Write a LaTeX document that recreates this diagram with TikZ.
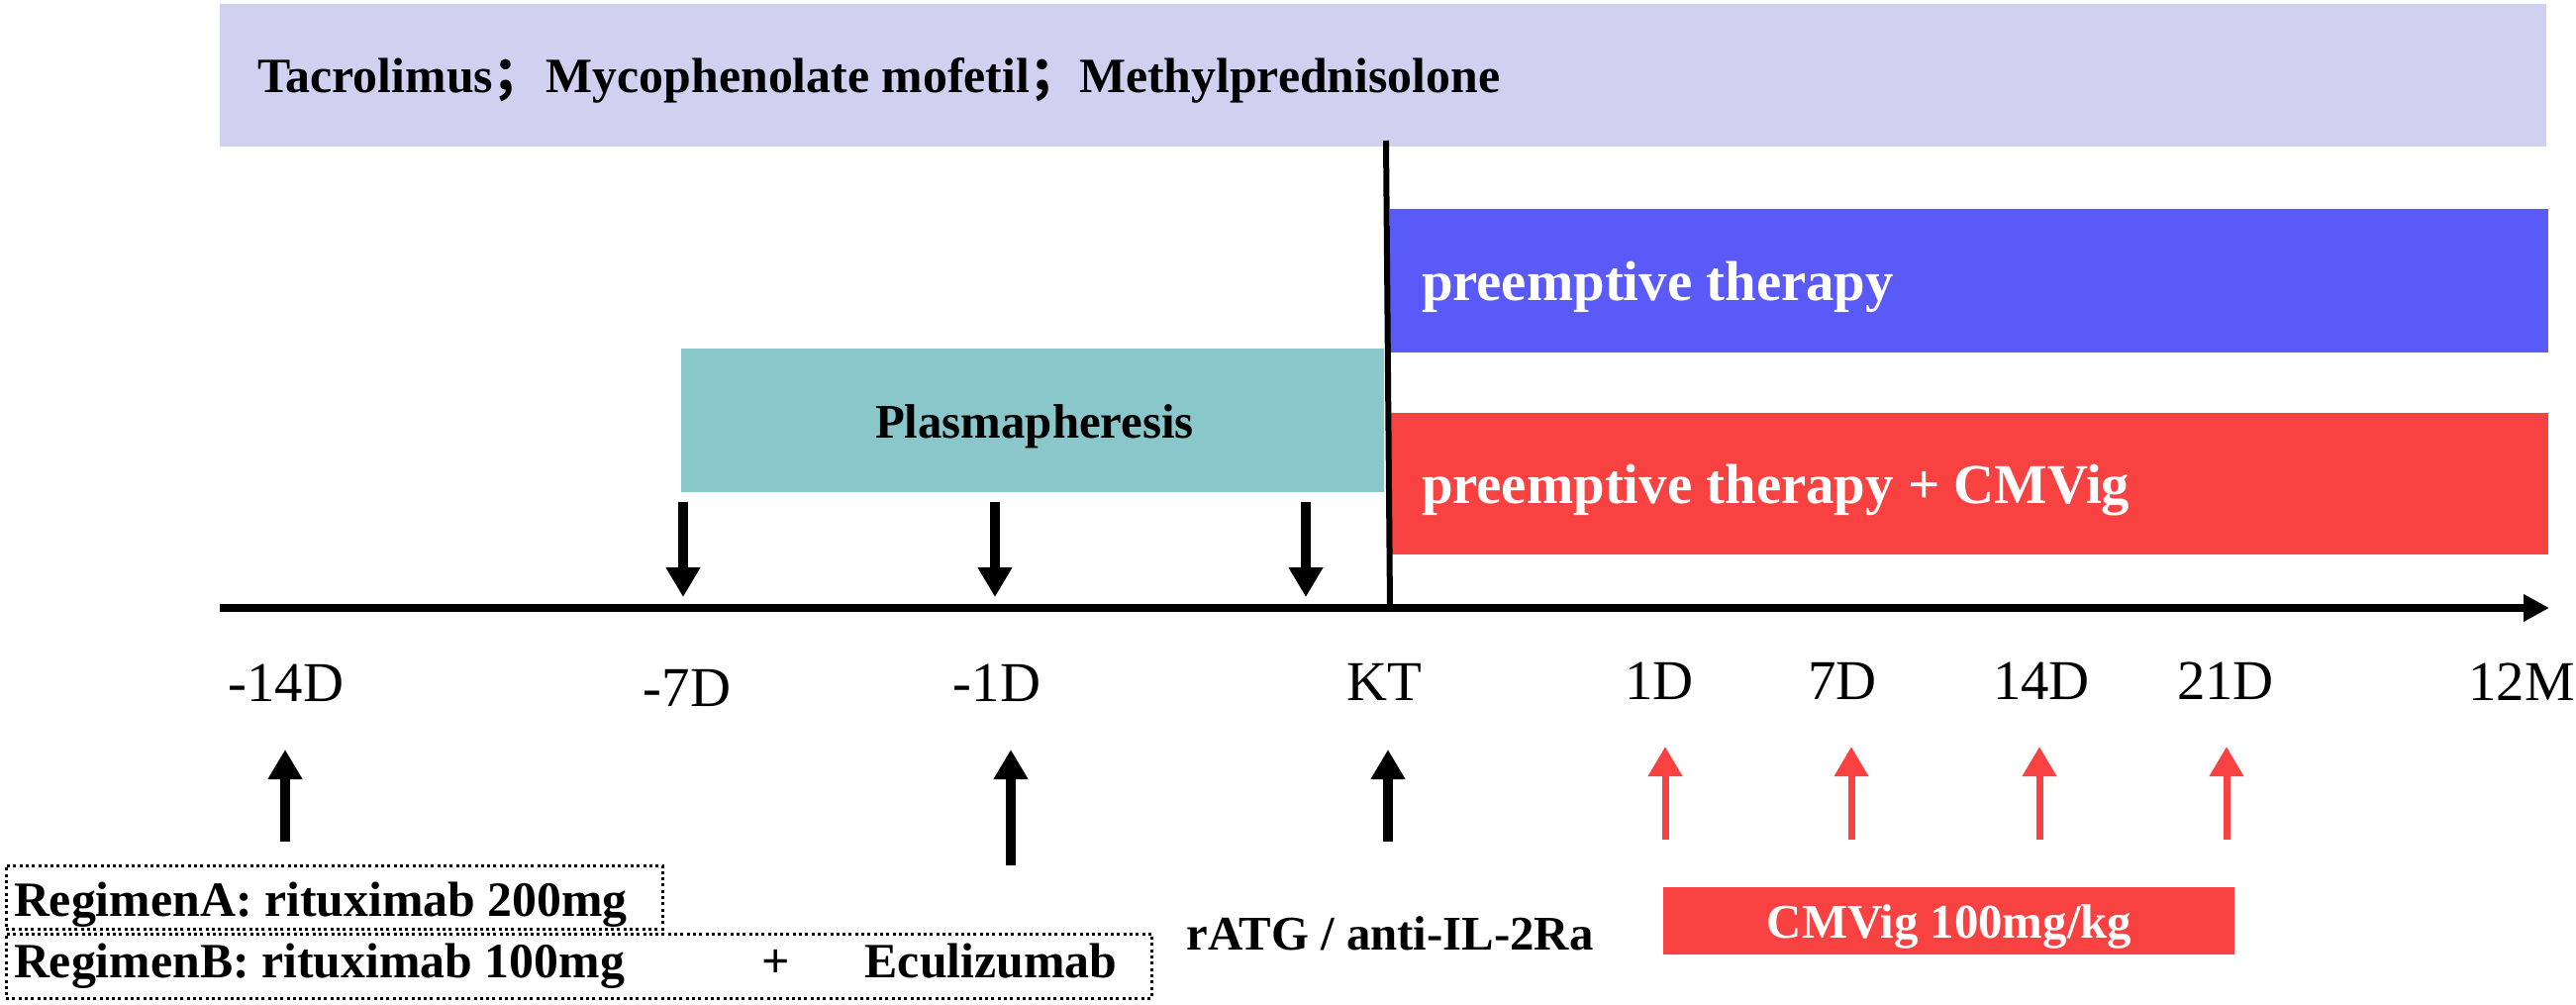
\documentclass[tikz,border=0pt]{standalone}
\usepackage{fontspec}
\setmainfont{Liberation Serif}
\newfontfamily\cjk{Noto Sans CJK SC}
\usetikzlibrary{arrows.meta}
\definecolor{lav}{RGB}{208,209,240}
\definecolor{bluebar}{RGB}{90,90,248}
\definecolor{redbar}{RGB}{248,66,66}
\definecolor{teal}{RGB}{138,199,202}
\tikzset{
  box/.style={inner sep=0, outer sep=0, anchor=north west},
  txt/.style={inner sep=0, outer sep=0, anchor=base},
  btxt/.style={txt, font=\fontsize{#1}{#1}\selectfont\bfseries},
  rtxt/.style={txt, font=\fontsize{57}{57}\selectfont},
  darrow/.style={line width=10bp, -{Triangle[length=30bp,width=33bp]}},
  rarrow/.style={line width=7bp, redbar, -{Triangle[length=30bp,width=33bp]}},
  dotbox/.style={draw, line width=3bp, dash pattern=on 3bp off 3.3bp}
}
\begin{document}
\begin{tikzpicture}[x=1bp,y=-1bp]
\useasboundingbox (0,0) rectangle (2602,1014);
% bars
\node[box, fill=lav, minimum width=2350bp, minimum height=144bp] (top) at (222,4) {};
\node[box, fill=bluebar, minimum width=1170bp, minimum height=145bp] (blue) at (1404,211) {};
\node[box, fill=redbar, minimum width=1170bp, minimum height=143bp] (red) at (1404,417) {};
\node[box, fill=teal, minimum width=710bp, minimum height=145bp] (plasma) at (688,352) {};
\node[box, fill=redbar, minimum width=577bp, minimum height=68bp] (cmvbox) at (1680,896) {};
\node[box, dotbox, minimum width=663bp, minimum height=64bp] (regA) at (6,874) {};
\node[box, dotbox, minimum width=1157bp, minimum height=65bp] (regB) at (6,943) {};
% bar texts
\node[btxt=50, anchor=base west] (toptxt) at (260,93) {Tacrolimus{\cjk ；}\hspace{4bp}Mycophenolate mofetil{\cjk ；}Methylprednisolone};
\node[btxt=49] (plasmatxt) at (1045,442) {Plasmapheresis};
\node[btxt=57, anchor=base west, text=white] (bluetxt) at (1436,303) {preemptive therapy};
\node[btxt=57, anchor=base west, text=white] (redtxt) at (1436,508) {preemptive therapy + CMVig};
\node[btxt=49, text=white] (cmvtxt) at (1969,947) {CMVig 100mg/kg};
\node[btxt=49] (ratg) at (1404,959) {rATG / anti-IL-2Ra};
\node[btxt=50, anchor=base west] (regAtxt) at (14,925) {RegimenA: rituximab 200mg};
\node[btxt=50, anchor=base west] (regBtxt) at (14,987) {RegimenB: rituximab 100mg};
\node[btxt=50] (plus) at (784,987) {+};
\node[btxt=50] (ecu) at (1001,987) {Eculizumab};
% axis
\coordinate (ax0) at (222,614);
\coordinate (ax1) at (2575,614);
\draw[line width=8bp, -{Triangle[length=26bp,width=26bp]}] (ax0) -- (ax1);
\coordinate (kttop) at (1400,142);
\coordinate (ktbot) at (1404,614);
\draw[line width=6bp] (kttop) -- (ktbot);
% axis labels
\node[rtxt] (l14) at (289,708) {-14D};
\node[rtxt] (l7) at (694,713) {-7D};
\node[rtxt] (l1) at (1007,708) {-1D};
\node[rtxt] (lkt) at (1398,707) {KT};
\node[rtxt] (p1) at (1676,706) {1D};
\node[rtxt] (p7) at (1861,706) {7D};
\node[rtxt] (p14) at (2062,706) {14D};
\node[rtxt] (p21) at (2248,706) {21D};
\node[rtxt] (p12) at (2547,707) {12M};
% down arrows
\foreach \n/\x in {a/690,b/1005,c/1319}{
  \coordinate (d\n s) at (\x,507);
  \coordinate (d\n e) at (\x,603);
  \draw[darrow] (d\n s) -- (d\n e);
}
% up arrows black
\foreach \n/\x/\y in {a/288/850,b/1021/874,c/1402/850}{
  \coordinate (u\n s) at (\x,\y);
  \coordinate (u\n e) at (\x,757);
  \draw[darrow] (u\n s) -- (u\n e);
}
% up arrows red
\foreach \n/\x in {a/1682,b/1870,c/2060,d/2249}{
  \coordinate (r\n s) at (\x,848);
  \coordinate (r\n e) at (\x,754);
  \draw[rarrow] (r\n s) -- (r\n e);
}
\end{tikzpicture}
\end{document}
